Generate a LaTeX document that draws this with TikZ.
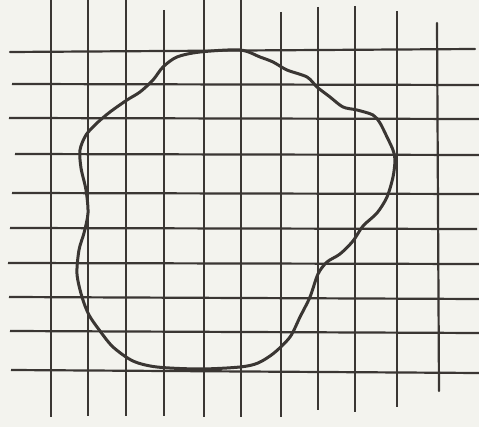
\documentclass[tikz,border=0pt]{standalone}
\begin{document}
\begin{tikzpicture}[x=1pt,y=-1pt,
  gridline/.style={draw=inkc,line width=2.2pt},
  blobline/.style={draw=inkc,line width=3pt,line join=round}]
\definecolor{inkc}{HTML}{3A3633}
\definecolor{paper}{HTML}{F3F3EE}
\fill[paper] (0,0) rectangle (479,427);
\useasboundingbox (0,0) rectangle (479,427);
% vertical lines
\draw[gridline] (51,0) -- (51,417);
\draw[gridline] (88,0) -- (88,416);
\draw[gridline] (126,0) -- (126,416);
\draw[gridline] (164,10) -- (164,416);
\draw[gridline] (204,0) -- (204,417);
\draw[gridline] (241,0) -- (241,417);
\draw[gridline] (281,12) -- (281,417);
\draw[gridline] (318,7) -- (318,410);
\draw[gridline] (355,6) -- (355,412);
\draw[gridline] (397,11) -- (397,407);
\draw[gridline,line cap=round] (437,23) -- (439,391);
% horizontal lines
\draw[gridline,line cap=round] (10,52) -- (475,49);
\draw[gridline] (12,84) -- (479,85);
\draw[gridline] (9,118) -- (479,119);
\draw[gridline] (15,154) -- (479,155);
\draw[gridline] (12,193) -- (479,194);
\draw[gridline] (10,228) -- (477,229);
\draw[gridline] (8,263) -- (479,264);
\draw[gridline] (9,297) -- (479,299);
\draw[gridline] (10,331) -- (479,333);
\draw[gridline] (11,370) -- (479,373);
% blob
\draw[blobline] plot[smooth cycle,tension=0.5] coordinates {
(240,50) (200,52) (177,57) (163,67) (153,80) (140,92) (127,100) (110,112)
(97,123) (86,135) (80,150) (81,168) (86,190) (88,213) (84,233) (79,250)
(77,274) (82,297) (89,315) (100,331) (113,347) (133,361) (157,367) (200,369)
(240,367) (258,363) (274,353) (290,337) (300,317) (310,297) (318,274)
(327,262) (340,254) (353,241) (363,226) (377,213) (387,197) (393,177)
(395,160) (393,150) (387,137) (380,123) (373,115) (357,110) (343,107)
(330,97) (317,87) (307,77) (287,70) (273,62) (260,57)};
\end{tikzpicture}
\end{document}
